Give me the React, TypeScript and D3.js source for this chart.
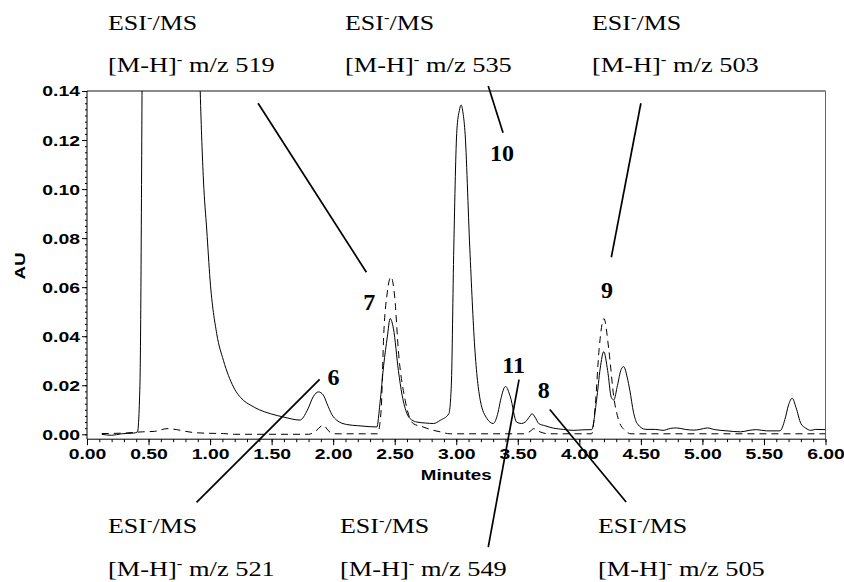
import React, { useEffect, useRef } from 'react';
import * as d3 from 'd3';

// solid trace (minutes / AU); the solvent front runs off scale
const solidTime = [
  0.12, 0.2, 0.28, 0.38, 0.41, 0.43, 0.47, 0.86, 0.92, 0.946, 0.973, 1.0, 1.054, 1.108,
  1.19, 1.27, 1.325, 1.4, 1.49, 1.6, 1.73, 1.79, 1.84, 1.88, 1.92, 1.95, 1.99, 2.03,
  2.11, 2.2, 2.3, 2.355, 2.38, 2.41, 2.44, 2.463, 2.49, 2.53, 2.56, 2.6, 2.64, 2.68,
  2.75, 2.815, 2.87, 2.94, 2.96, 2.98, 3.005, 3.025, 3.04, 3.055, 3.07, 3.11, 3.15,
  3.195, 3.25, 3.3, 3.34, 3.36, 3.4, 3.44, 3.49, 3.53, 3.56, 3.6, 3.615, 3.64, 3.67,
  3.72, 3.79, 3.87, 3.95, 4.02, 4.1, 4.14, 4.17, 4.198, 4.23, 4.26, 4.28, 4.31, 4.34,
  4.36, 4.39, 4.41, 4.44, 4.47, 4.54, 4.62, 4.68, 4.74, 4.79, 4.86, 4.93, 4.98, 5.04,
  5.1, 5.2, 5.31, 5.38, 5.44, 5.52, 5.63, 5.67, 5.7, 5.73, 5.76, 5.8, 5.84, 5.88,
  5.92, 6.0,
];
const solidAU = [
  0.0, -0.0004, 0.0002, 0.0005, 0.001, 0.02, 0.3, 0.3, 0.1397, 0.1037, 0.0833, 0.0629, 0.041, 0.0302,
  0.0193, 0.0139, 0.012, 0.01, 0.0084, 0.007, 0.0058, 0.0098, 0.0155, 0.0173, 0.016, 0.0125, 0.008, 0.0057,
  0.004, 0.0035, 0.0031, 0.003, 0.0125, 0.028, 0.0397, 0.0472, 0.043, 0.026, 0.016, 0.0084, 0.0058, 0.005,
  0.0046, 0.0044, 0.0057, 0.0084, 0.02, 0.076, 0.124, 0.132, 0.1343, 0.131, 0.124, 0.076, 0.0356,
  0.0139, 0.0064, 0.0044, 0.009, 0.0139, 0.0195, 0.0152, 0.005, 0.0044, 0.005, 0.0075, 0.0084, 0.007, 0.0044,
  0.0035, 0.0025, 0.002, 0.0016, 0.0018, 0.0019, 0.0139, 0.027, 0.0337, 0.026, 0.015, 0.014, 0.02, 0.0265,
  0.0276, 0.023, 0.018, 0.009, 0.0044, 0.002, 0.002, 0.0016, 0.0024, 0.0026, 0.002, 0.0017, 0.002, 0.0026,
  0.0019, 0.0014, 0.001, 0.0016, 0.0019, 0.0014, 0.0014, 0.006, 0.012, 0.0147, 0.011, 0.0044, 0.0025, 0.0016,
  0.002, 0.0019,
];

// dashed trace
const dashTime = [
  0.12, 0.3, 0.45, 0.55, 0.65, 0.73, 0.8, 0.87, 1.0, 1.11, 1.2, 1.8, 1.85, 1.92, 1.96, 2.0,
  2.36, 2.39, 2.41, 2.44, 2.47, 2.5, 2.53, 2.585, 2.65, 2.73, 2.8, 2.87, 2.95, 3.55, 3.6,
  3.63, 3.68, 3.75, 4.1, 4.13, 4.16, 4.2, 4.24, 4.28, 4.32, 4.37, 4.42, 6.0,
];
const dashAU = [
  0.0003, 0.0005, 0.001, 0.0012, 0.0023, 0.0019, 0.0012, 0.0007, 0.0004, 0.0003, 0.0, 0.0, 0.001, 0.0037, 0.0015, 0.0002,
  0.0002, 0.01, 0.0397, 0.058, 0.0642, 0.056, 0.034, 0.0139, 0.0044, 0.003, 0.0018, 0.001, 0.0002, 0.0002, 0.0012,
  0.0023, 0.001, 0.0002, 0.0002, 0.012, 0.0343, 0.0472, 0.0343, 0.0152, 0.0057, 0.0016, 0.0002, 0.0002,
];

const xTickValues = [0, 0.5, 1, 1.5, 2, 2.5, 3, 3.5, 4, 4.5, 5, 5.5, 6];
const yTickValues = [0, 0.02, 0.04, 0.06, 0.08, 0.1, 0.12, 0.14];

// peak numbers and where they sit (minutes, AU)
const peakNames = ['6', '7', '8', '9', '10', '11'];
const peakTime = [2.003, 2.293, 3.71, 4.225, 3.371, 3.466];
const peakAU = [0.0235, 0.0541, 0.0181, 0.0591, 0.1148, 0.0285];

// leader lines (minutes, AU) from start to end
const leaderFrom = [[1.39, 0.135], [3.26, 0.142], [4.5, 0.135], [1.89, 0.0224], [3.51, 0.0223], [3.76, 0.0101]];
const leaderTo = [[2.27, 0.0661], [3.38, 0.123], [4.26, 0.0722], [0.89, -0.0278], [3.26, -0.046], [4.38, -0.0276]];

const topMz = ['519', '535', '503'];
const bottomMz = ['521', '549', '505'];

const W = 844;
const H = 582;
const margin = { top: 91, right: 18.5, bottom: 142.8, left: 87 };

const SERIF = '"Liberation Serif", "Times New Roman", serif';
const SANS = '"Liberation Sans", Arial, sans-serif';
const WIDE = 1.25;

const Chromatogram = () => {
  const svgRef = useRef<SVGSVGElement>(null);

  useEffect(() => {
    const svg = d3.select(svgRef.current);
    svg.selectAll('*').remove();

    const x = d3.scaleLinear().domain([0, 6]).range([margin.left, W - margin.right]);
    const y = d3.scaleLinear().domain([-0.002, 0.14]).range([H - margin.bottom, margin.top]);
    const x0 = x.range()[0], x1 = x.range()[1];
    const y0 = y.range()[0], y1 = y.range()[1];

    svg.append('rect').attr('width', W).attr('height', H).attr('fill', '#fff');

    svg.append('clipPath').attr('id', 'plot-clip')
      .append('rect').attr('x', x0).attr('y', y1).attr('width', x1 - x0).attr('height', y0 - y1);

    // frame
    svg.append('line').attr('x1', x0).attr('x2', x1).attr('y1', y1).attr('y2', y1)
      .attr('stroke', '#8a8a8a').attr('stroke-width', 2);
    svg.append('line').attr('x1', x1).attr('x2', x1).attr('y1', y1).attr('y2', y0)
      .attr('stroke', '#666').attr('stroke-width', 1);

    // y axis
    const yAxis = svg.append('g').attr('transform', `translate(${x0},0)`)
      .call(d3.axisLeft(y).tickValues(yTickValues).tickFormat(d3.format('.2f')).tickSize(5).tickPadding(6));
    yAxis.select('.domain').remove();
    yAxis.selectAll('line').attr('stroke', '#000');
    yAxis.selectAll('text')
      .attr('x', -7 / WIDE)
      .attr('transform', `scale(${WIDE},1)`)
      .attr('font-family', SANS).attr('font-weight', 'bold').attr('font-size', 15.5).attr('fill', '#000');
    const yMinor = svg.append('g').attr('transform', `translate(${x0},0)`)
      .call(d3.axisLeft(y).tickValues(d3.range(0, 0.1401, 0.0025)).tickFormat(() => '').tickSize(2));
    yMinor.select('.domain').remove();
    yMinor.selectAll('line').attr('stroke', '#000');

    // x axis
    const xAxis = svg.append('g').attr('transform', `translate(0,${y0})`)
      .call(d3.axisBottom(x).tickValues(xTickValues).tickFormat(d3.format('.2f')).tickSize(6).tickPadding(3));
    xAxis.select('.domain').remove();
    xAxis.selectAll('line').attr('stroke', '#000');
    xAxis.selectAll('text')
      .attr('transform', `scale(${WIDE},1)`)
      .attr('font-family', SANS).attr('font-weight', 'bold').attr('font-size', 15.5).attr('fill', '#000');
    const xMinor = svg.append('g').attr('transform', `translate(0,${y0})`)
      .call(d3.axisBottom(x).tickValues(d3.range(0, 6.001, 0.1)).tickFormat(() => '').tickSize(3));
    xMinor.select('.domain').remove();
    xMinor.selectAll('line').attr('stroke', '#000');

    svg.append('line').attr('x1', x0).attr('x2', x0).attr('y1', y1).attr('y2', y0).attr('stroke', '#000');
    svg.append('line').attr('x1', x0).attr('x2', x1).attr('y1', y0).attr('y2', y0).attr('stroke', '#000');

    // axis titles
    svg.append('text')
      .attr('transform', `translate(${(x0 + x1) / 2},480) scale(${WIDE},1)`)
      .attr('text-anchor', 'middle')
      .attr('font-family', SANS).attr('font-weight', 'bold').attr('font-size', 15)
      .text('Minutes');
    svg.append('text')
      .attr('transform', `translate(25,266) rotate(-90) scale(${WIDE},1)`)
      .attr('text-anchor', 'middle')
      .attr('font-family', SANS).attr('font-weight', 'bold').attr('font-size', 15)
      .text('AU');

    // traces
    const line = d3.line<[number, number]>()
      .x((d) => x(d[0]))
      .y((d) => y(d[1]))
      .curve(d3.curveMonotoneX);
    const plot = svg.append('g').attr('clip-path', 'url(#plot-clip)');
    plot.append('path')
      .attr('d', line(d3.zip(dashTime, dashAU) as [number, number][]))
      .attr('fill', 'none').attr('stroke', '#000').attr('stroke-width', 1)
      .attr('stroke-dasharray', '7,5');
    plot.append('path')
      .attr('d', line(d3.zip(solidTime, solidAU) as [number, number][]))
      .attr('fill', 'none').attr('stroke', '#000').attr('stroke-width', 1);

    // leader lines
    svg.selectAll('.leader')
      .data(d3.zip(leaderFrom, leaderTo))
      .join('line')
      .attr('class', 'leader')
      .attr('x1', (d) => x(d[0][0])).attr('y1', (d) => y(d[0][1]))
      .attr('x2', (d) => x(d[1][0])).attr('y2', (d) => y(d[1][1]))
      .attr('stroke', '#000').attr('stroke-width', 1.7);

    // peak numbers
    svg.selectAll('.peak')
      .data(peakNames)
      .join('text')
      .attr('class', 'peak')
      .attr('x', (d, i) => x(peakTime[i]))
      .attr('y', (d, i) => y(peakAU[i]))
      .attr('dy', '0.35em')
      .attr('text-anchor', 'middle')
      .attr('font-family', SERIF).attr('font-weight', 'bold').attr('font-size', 24)
      .text((d) => d);

    // ESI-/MS labels
    const msLabel = (lx: number, esiY: number, mzY: number, mz: string) => {
      const g = svg.append('g')
        .attr('font-family', SERIF).attr('font-size', 22).attr('fill', '#000');
      const t1 = g.append('text').attr('transform', `translate(${lx},${esiY}) scale(1.18,1)`);
      t1.append('tspan').text('ESI');
      t1.append('tspan').attr('dy', -8).attr('font-size', 14).text('-');
      t1.append('tspan').attr('dy', 8).text('/MS');
      const t2 = g.append('text').attr('transform', `translate(${lx},${mzY}) scale(1.2,1)`);
      t2.append('tspan').text('[M-H]');
      t2.append('tspan').attr('dy', -8).attr('font-size', 14).text('-');
      t2.append('tspan').attr('dy', 8).text(` m/z ${mz}`);
    };
    const topX = [108, 345, 592];
    const bottomX = [108, 340, 598];
    topMz.forEach((mz, i) => msLabel(topX[i], 30, 72, mz));
    bottomMz.forEach((mz, i) => msLabel(bottomX[i], 533, 576, mz));
  }, []);

  return (
    <svg ref={svgRef} width={W} height={H} style={{ position: 'absolute', left: 0, top: 0 }} />
  );
};

export default function App() {
  return <Chromatogram />;
}
